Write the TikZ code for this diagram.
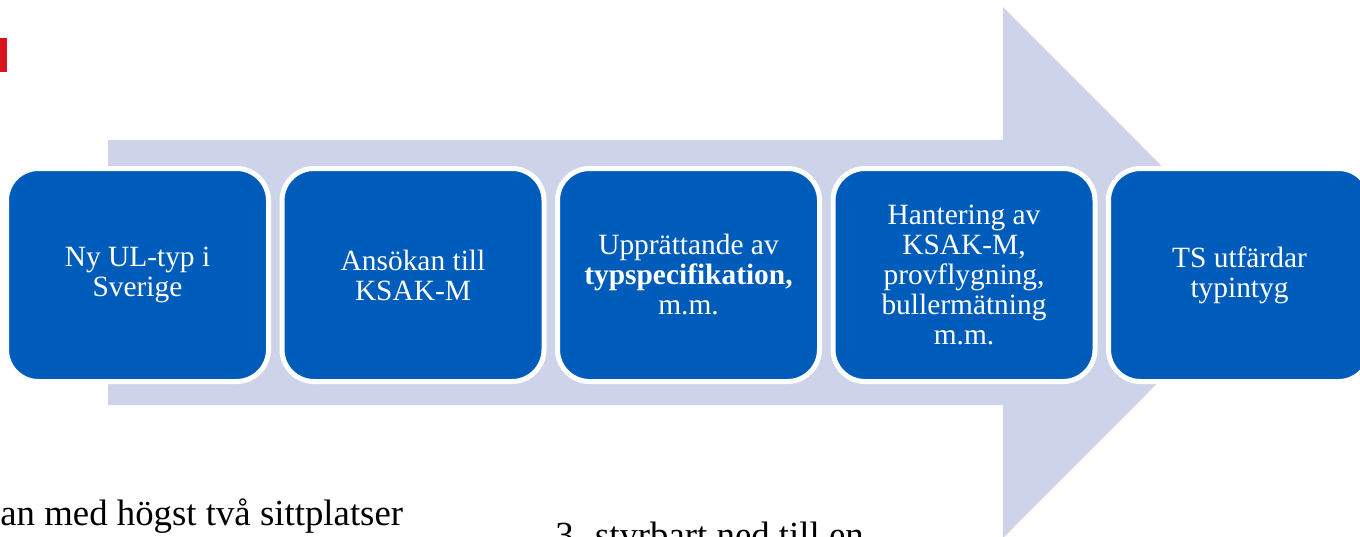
\documentclass[tikz,border=0pt]{standalone}
\usepackage{fontspec}
\setmainfont{Liberation Serif}
\usepackage{tikz}
\definecolor{ksakblue}{RGB}{0,92,187}
\definecolor{pilgrey}{RGB}{205,211,232}
\definecolor{ksakred}{RGB}{217,19,31}

\begin{document}
\begin{tikzpicture}[x=0.5pt,y=-0.5pt]
	\tikzstyle{every node}=[inner sep=0pt]
	\tikzstyle{fas}=[rectangle, rounded corners=16pt, fill=ksakblue, draw=white, line width=2.5pt, minimum width=131pt, minimum height=106.5pt, text=white, align=center, font=\fontsize{14.7}{15}\selectfont]
	\clip (0,0) rectangle (1360,536);
	\fill[ksakred] (0,38) rectangle (7,72);
	% big arrow behind the steps
	\fill[pilgrey] (108,140) -- (1003,140) -- (1003,7) -- (1268,272.5) -- (1003,538) -- (1003,405) -- (108,405) -- cycle;
	\draw (137.5,275) node (s1) [fas] {Ny UL-typ i\\Sverige};
	\draw (413,275) node (s2) [fas] {Ansökan till\\KSAK-M};
	\draw (688.5,275) node (s3) [fas] {Upprättande av\\\textbf{typspecifikation,}\\m.m.};
	\draw (964,275) node (s4) [fas] {Hantering av\\KSAK-M,\\provflygning,\\bullermätning\\m.m.};
	\draw (1239.5,275) node (s5) [fas] {TS utfärdar\\typintyg};
	%\draw (s1) -- (s2);
	\draw (0,525) node (t1) [anchor=base west, font=\fontsize{18.4}{22}\selectfont] {an med högst två sittplatser};
	\draw (555,547) node (t2) [anchor=base west, font=\fontsize{18.4}{22}\selectfont] {3.\hspace{6pt}styrbart ned till en};
\end{tikzpicture}
\end{document}
